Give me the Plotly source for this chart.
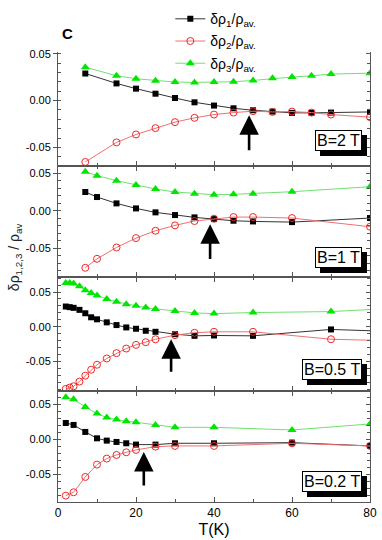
import plotly.graph_objects as go

# ---------------- data ----------------
T1 = [7, 15, 20, 25, 30, 35, 40, 45, 50, 55, 60, 65, 70, 80]
p1_black = [0.029, 0.0184, 0.0128, 0.0074, 0.0028, -0.0018, -0.0053, -0.0082, -0.0103, -0.0117, -0.0131, -0.0131, -0.0128, -0.0121]
p1_red = [-0.0656, -0.0447, -0.0362, -0.0294, -0.0230, -0.0184, -0.0149, -0.0128, -0.0113, -0.0121, -0.0117, -0.0128, -0.0149, -0.0177]
p1_green = [0.0358, 0.0266, 0.0234, 0.0213, 0.0199, 0.0195, 0.0199, 0.0202, 0.0216, 0.0238, 0.0252, 0.0266, 0.0284, 0.0294]

T2 = [7, 10, 15, 20, 25, 30, 35, 40, 45, 50, 60, 80]
p2_black = [0.025, 0.0183, 0.0098, 0.0031, -0.0022, -0.0058, -0.0089, -0.0112, -0.0134, -0.0143, -0.0152, -0.0098]
p2_red = [-0.0763, -0.0643, -0.0491, -0.0366, -0.0268, -0.0196, -0.0138, -0.0107, -0.0085, -0.0085, -0.0098, -0.0214]
p2_green = [0.0522, 0.0469, 0.0402, 0.0344, 0.029, 0.025, 0.0228, 0.0214, 0.0219, 0.0228, 0.0254, 0.0321]

T3 = [2, 3, 4, 5.5, 7, 8.5, 10, 12.5, 15, 17.5, 20, 22.5, 25, 30, 35, 40, 50, 70, 90]
p3_black = [0.0291, 0.0282, 0.0272, 0.0243, 0.0194, 0.0136, 0.0107, 0.0063, 0.0024, -0.001, -0.0029, -0.0058, -0.0073, -0.0107, -0.0131, -0.0126, -0.0131, -0.0039, -0.0077]
p3_red = [-0.0895, -0.0876, -0.0857, -0.079, -0.0704, -0.0619, -0.0547, -0.0457, -0.038, -0.0314, -0.0261, -0.0223, -0.018, -0.0121, -0.0087, -0.0073, -0.0073, -0.018, -0.0208]
p3_green = [0.0631, 0.0631, 0.0621, 0.0583, 0.0524, 0.0485, 0.0451, 0.0398, 0.0359, 0.0325, 0.0301, 0.0277, 0.0257, 0.0228, 0.0199, 0.0189, 0.0204, 0.0218, 0.0278]

T4 = [2, 4, 7, 10, 12.5, 15, 17.5, 20, 25, 30, 40, 60, 80]
p4_black = [0.0233, 0.0205, 0.0105, 0.0014, -0.0019, -0.0038, -0.0057, -0.0076, -0.0076, -0.0057, -0.0057, -0.0048, -0.0095]
p4_red = [-0.0805, -0.0757, -0.0538, -0.0362, -0.0276, -0.0224, -0.0186, -0.0152, -0.0105, -0.0095, -0.0095, -0.0057, -0.0095]
p4_green = [0.06, 0.0571, 0.0462, 0.0367, 0.031, 0.0281, 0.0257, 0.0243, 0.0205, 0.0171, 0.0171, 0.0133, 0.0219]

field_labels = ["B=2 T", "B=1 T", "B=0.5 T", "B=0.2 T"]
arrow_T = [49, 39, 29, 22]
arrow_tip = [-0.0156, -0.018, -0.018, -0.018]
arrow_tail = [-0.0547, -0.0666, -0.067, -0.068]

series_names = ["δρ<sub>1</sub>/ρ<sub>av.</sub>", "δρ<sub>2</sub>/ρ<sub>av.</sub>", "δρ<sub>3</sub>/ρ<sub>av.</sub>"]
y_ticks = [-0.05, 0.0, 0.05]
y_ticktext = ["-0.05", "0.00", "0.05"]
x_ticks = [0, 20, 40, 60, 80]

panels = [
    (T1, p1_black, p1_red, p1_green),
    (T2, p2_black, p2_red, p2_green),
    (T3, p3_black, p3_red, p3_green),
    (T4, p4_black, p4_red, p4_green),
]
y_ranges = [[-0.0699, 0.052], [-0.0886, 0.0598], [-0.0925, 0.0716], [-0.0896, 0.069]]
domains = [[0.7467, 1.0], [0.5, 0.7467], [0.2467, 0.5], [0.0, 0.2467]]
box_y = [0.134, 0.08, 0.096, 0.093]

FONT = "Arial, Liberation Sans, sans-serif"
fig = go.Figure()

styles = [
    dict(line=dict(color="#333333", width=1),
         marker=dict(symbol="square", size=6, color="black", line=dict(width=0))),
    dict(line=dict(color="#f07070", width=1),
         marker=dict(symbol="circle-open", size=7, color="#ee2a2a", line=dict(width=1))),
    dict(line=dict(color="#70e070", width=1),
         marker=dict(symbol="triangle-up", size=8, color="#00e600", line=dict(width=0))),
]

for i, (T, b, r, g) in enumerate(panels):
    xa = "x" if i == 0 else f"x{i+1}"
    ya = "y" if i == 0 else f"y{i+1}"
    for k, vals in enumerate([b, r, g]):
        fig.add_trace(go.Scatter(
            x=T, y=vals, mode="lines+markers", xaxis=xa, yaxis=ya,
            name=series_names[k], showlegend=(i == 0), legendgroup=str(k),
            **styles[k]))
    # dummy trace for right-side tick axis
    fig.add_trace(go.Scatter(x=[None], y=[None], xaxis=xa, yaxis=f"y{i+5}",
                             showlegend=False, hoverinfo="skip"))

layout = dict(
    width=382, height=540,
    margin=dict(l=58, r=12, t=52, b=38, autoexpand=False),
    paper_bgcolor="white", plot_bgcolor="white",
    font=dict(family=FONT, size=11, color="black"),
    showlegend=True,
    legend=dict(x=0.36, y=1.1084, xanchor="left", yanchor="top",
                bgcolor="rgba(0,0,0,0)", font=dict(size=14, family=FONT),
                tracegroupgap=1, itemwidth=30),
)

for i in range(4):
    xk = "xaxis" if i == 0 else f"xaxis{i+1}"
    yk = "yaxis" if i == 0 else f"yaxis{i+1}"
    ya = "y" if i == 0 else f"y{i+1}"
    xa = "x" if i == 0 else f"x{i+1}"
    layout[xk] = dict(
        range=[0, 80], anchor=ya, showgrid=False, zeroline=False,
        showline=True, linecolor="#555555", linewidth=1,
        mirror=("ticks" if i > 0 else False),
        ticks="inside", ticklen=5, tickcolor="#555555",
        tickvals=x_ticks, showticklabels=(i == 3),
        tickfont=dict(size=12, family=FONT),
        minor=dict(ticks="inside", ticklen=3, dtick=10, tickcolor="#555555"),
    )
    if i > 0:
        layout[xk]["matches"] = "x"
    layout[yk] = dict(
        range=y_ranges[i], domain=domains[i], anchor=xa,
        showgrid=False, zeroline=False, showline=True, linecolor="#555555",
        linewidth=1, ticks="outside", ticklen=4, tickcolor="#555555",
        tickvals=y_ticks, ticktext=y_ticktext, tickfont=dict(size=11, family=FONT),
        minor=dict(ticks="inside", ticklen=3, dtick=0.01, tickcolor="#555555"),
    )
    layout[f"yaxis{i+5}"] = dict(
        range=y_ranges[i], overlaying=ya, side="right", anchor=xa,
        showgrid=False, zeroline=False, showline=True, linecolor="#555555",
        linewidth=1, ticks="inside", ticklen=4, tickcolor="#555555",
        tickvals=y_ticks, showticklabels=False,
        minor=dict(ticks="inside", ticklen=3, dtick=0.01, tickcolor="#555555"),
    )

layout["xaxis4"]["title"] = dict(text="T(K)", font=dict(size=16, family=FONT), standoff=4)

fig.update_layout(**layout)

annotations = []
for i in range(4):
    xa = "x" if i == 0 else f"x{i+1}"
    ya = "y" if i == 0 else f"y{i+1}"
    # arrow
    annotations.append(dict(
        x=arrow_T[i], y=arrow_tip[i], ax=arrow_T[i], ay=arrow_tail[i],
        xref=xa, yref=ya, axref=xa, ayref=ya, text="", showarrow=True,
        arrowhead=2, arrowsize=1.5, arrowwidth=2.6, arrowcolor="black"))
    # shadow box
    annotations.append(dict(
        x=0.974, y=box_y[i], xref=f"{xa} domain", yref=f"{ya} domain",
        xanchor="right", yanchor="bottom", text=field_labels[i], showarrow=False,
        font=dict(size=16, family=FONT, color="black"), bgcolor="black",
        borderpad=1, borderwidth=1, bordercolor="black", xshift=5, yshift=-5))
    annotations.append(dict(
        x=0.974, y=box_y[i], xref=f"{xa} domain", yref=f"{ya} domain",
        xanchor="right", yanchor="bottom", text=field_labels[i], showarrow=False,
        font=dict(size=16, family=FONT, color="black"), bgcolor="white",
        borderpad=1, borderwidth=1, bordercolor="black"))

annotations.append(dict(
    x=-0.138, y=0.544, xref="paper", yref="paper", xanchor="center", yanchor="middle",
    text="δρ<sub>1,2,3</sub> / ρ<sub>av</sub>", textangle=-90, showarrow=False,
    font=dict(size=14, family=FONT, color="#222222")))
annotations.append(dict(
    x=0.005, y=1.042, xref="paper", yref="paper", xanchor="left", yanchor="middle",
    text="<b>C</b>", showarrow=False, font=dict(size=15, family=FONT, color="black")))

fig.update_layout(annotations=annotations)

fig.write_html("out.html", config={"displayModeBar": False},
               post_script="document.body.style.margin='0px';")
